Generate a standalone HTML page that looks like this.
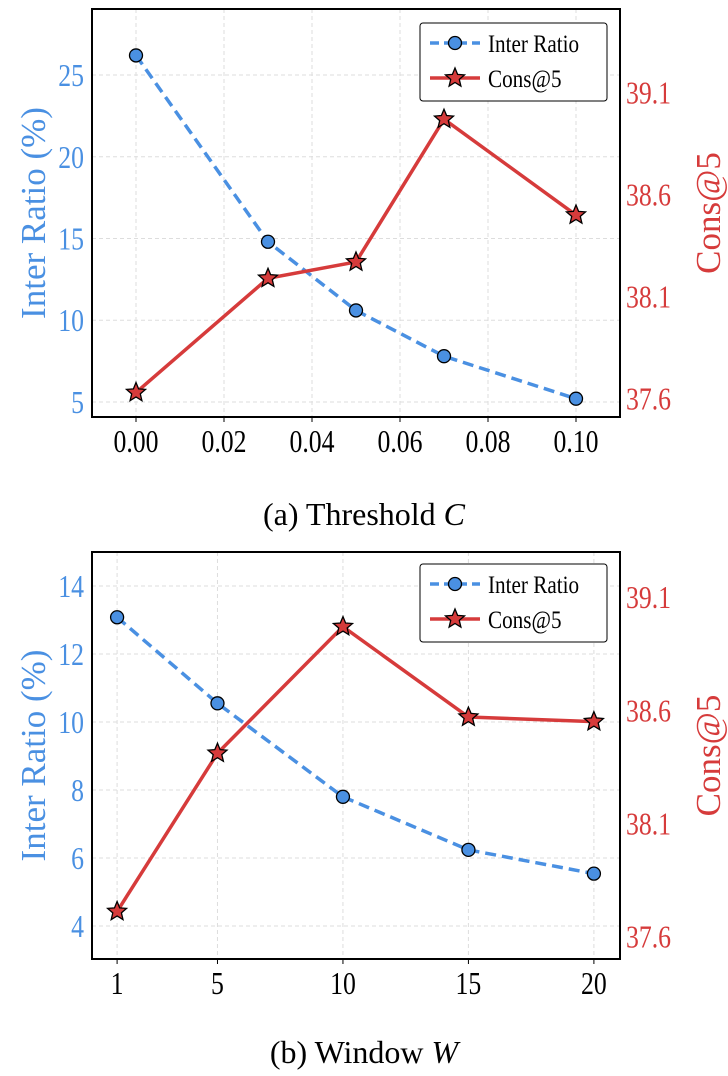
<!DOCTYPE html>
<html><head><meta charset="utf-8"><style>
body{margin:0;background:#fff;}
svg{display:block;font-family:"Liberation Serif",serif;}
</style></head><body>
<svg id="s" width="728" height="1076" xmlns="http://www.w3.org/2000/svg"></svg>
<script>
const catsA=[0,0.03,0.05,0.07,0.10];
const ratioA=[26.2,14.8,10.6,7.8,5.2];
const consA=[37.63,38.19,38.27,38.97,38.50];
const xTicksA=[0,0.02,0.04,0.06,0.08,0.10];
const xTickLabelsA=["0.00","0.02","0.04","0.06","0.08","0.10"];
const yTicksA=[5,10,15,20,25];
const catsB=[1,5,10,15,20];
const ratioB=[13.08,10.55,7.8,6.24,5.54];
const consB=[37.71,38.41,38.97,38.57,38.55];
const xTicksB=[1,5,10,15,20];
const xTickLabelsB=["1","5","10","15","20"];
const yTicksB=[4,6,8,10,12,14];
const rTicks=[37.6,38.1,38.6,39.1];
const BLUE="#4a90e2",RED="#d63b3b";
const NS="http://www.w3.org/2000/svg";
const svg=document.getElementById('s');
function mk(t,a,p){const e=document.createElementNS(NS,t);for(const k in a)e.setAttribute(k,a[k]);(p||svg).appendChild(e);return e;}
function starPts(cx,cy,R){let p=[];for(let i=0;i<10;i++){const r=i%2?R*0.45:R;const a=-Math.PI/2+i*Math.PI/5;p.push((cx+r*Math.cos(a)).toFixed(1)+","+(cy+r*Math.sin(a)).toFixed(1));}return p.join(" ");}
function chart(o){
  const g=mk('g',{});
  const L=92,R=620,T=o.top,B=o.bot;
  const x=v=>L+(v-o.xmin)/(o.xmax-o.xmin)*(R-L);
  const yl=v=>B-(v-o.ymin)/(o.ymax-o.ymin)*(B-T);
  const yr=v=>B-(v-o.rmin)/(o.rmax-o.rmin)*(B-T);
  o.xt.forEach((v,i)=>{
    const l=mk('line',{x1:x(v),x2:x(v),y1:T,y2:B,stroke:"#ddd","stroke-dasharray":"4,3","stroke-width":1},g);
    const tk=mk('line',{x1:x(v),x2:x(v),y1:B,y2:B+5,stroke:"#000","stroke-width":1},g);
    const t=mk('text',{x:x(v),y:B+35,"text-anchor":"middle","font-size":28,fill:"#000",transform:`translate(${x(v)},${B+35}) scale(0.92,1.12) translate(${-x(v)},${-(B+35)})`},g);t.textContent=o.xl[i];
  });
  o.yt.forEach(v=>{
    const l=mk('line',{x1:L,x2:R,y1:yl(v),y2:yl(v),stroke:"#ddd","stroke-dasharray":"4,3","stroke-width":1},g);
    const yy=yl(v)+11;
    const t=mk('text',{x:L-8,y:yy,"text-anchor":"end","font-size":28,fill:BLUE,transform:`translate(${L-8},${yy}) scale(0.92,1.12) translate(${-(L-8)},${-yy})`},g);t.textContent=v;
  });
  rTicks.forEach(v=>{
    const yy=yr(v)+11;
    const t=mk('text',{x:R+6,y:yy,"font-size":28,fill:RED,transform:`translate(${R+6},${yy}) scale(0.92,1.12) translate(${-(R+6)},${-yy})`},g);t.textContent=v.toFixed(1);
  });
  const bp=o.cats.map((c,i)=>x(c)+","+yl(o.ratio[i])).join(" ");
  const bl=mk('polyline',{points:bp,fill:"none",stroke:BLUE,"stroke-width":3.5,"stroke-dasharray":"11,6"},g);
  const rp=o.cats.map((c,i)=>x(c)+","+yr(o.cons[i])).join(" ");
  const rl=mk('polyline',{points:rp,fill:"none",stroke:RED,"stroke-width":3.5},g);
  o.cats.forEach((c,i)=>{
    const m=mk('circle',{cx:x(c),cy:yl(o.ratio[i]),r:6.5,fill:BLUE,stroke:"#000","stroke-width":1.3},g);
  });
  o.cats.forEach((c,i)=>{
    const m=mk('polygon',{points:starPts(x(c),yr(o.cons[i]),10),fill:RED,stroke:"#000","stroke-width":1.3},g);
  });
  const f=mk('rect',{x:L,y:T,width:R-L,height:B-T,fill:"none",stroke:"#000","stroke-width":2},g);
  const my=(T+B)/2;
  const yt=mk('text',{x:0,y:0,transform:`translate(45,${my}) rotate(-90)`,"text-anchor":"middle","font-size":35,fill:BLUE},g);yt.textContent="Inter Ratio (%)";
  const rt=mk('text',{x:0,y:0,transform:`translate(720,${my}) rotate(-90)`,"text-anchor":"middle","font-size":35,fill:RED},g);rt.textContent="Cons@5";
  const lg=mk('g',{},g);
  const ly=o.legTop;
  mk('rect',{x:420,y:ly,width:187,height:78,rx:3,fill:"#fff",stroke:"#000","stroke-width":1},lg);
  mk('line',{x1:430,x2:480,y1:ly+20,y2:ly+20,stroke:BLUE,"stroke-width":3.5,"stroke-dasharray":"9,5"},lg);
  mk('circle',{cx:455,cy:ly+20,r:6.5,fill:BLUE,stroke:"#000","stroke-width":1.3},lg);
  const t1=mk('text',{x:488,y:ly+29,"font-size":23,fill:"#000",transform:`translate(488,${ly+29}) scale(0.92,1.12) translate(-488,${-(ly+29)})`},lg);t1.textContent="Inter Ratio";
  mk('line',{x1:430,x2:480,y1:ly+55,y2:ly+55,stroke:RED,"stroke-width":3.5},lg);
  mk('polygon',{points:starPts(455,ly+55,10),fill:RED,stroke:"#000","stroke-width":1.3},lg);
  const t2=mk('text',{x:488,y:ly+64,"font-size":23,fill:"#000",transform:`translate(488,${ly+64}) scale(0.92,1.12) translate(-488,${-(ly+64)})`},lg);t2.textContent="Cons@5";
  const cap=mk('text',{x:364,y:o.capY,"text-anchor":"middle","font-size":32,fill:"#000"},g);cap.innerHTML=o.cap;
}
chart({name:'chart-threshold',top:9,bot:417,xmin:-0.01,xmax:0.11,ymin:4.08,ymax:29.04,rmin:37.51,rmax:39.51,cats:catsA,ratio:ratioA,cons:consA,xt:xTicksA,xl:xTickLabelsA,yt:yTicksA,legTop:23,capY:525,cap:'(a) Threshold <tspan font-style="italic">C</tspan>'});
chart({name:'chart-window',top:552,bot:959,xmin:0,xmax:21.04,ymin:3.03,ymax:15,rmin:37.5,rmax:39.3,cats:catsB,ratio:ratioB,cons:consB,xt:xTicksB,xl:xTickLabelsB,yt:yTicksB,legTop:564,capY:1063,cap:'(b) Window <tspan font-style="italic">W</tspan>'});
</script>
</body></html>
